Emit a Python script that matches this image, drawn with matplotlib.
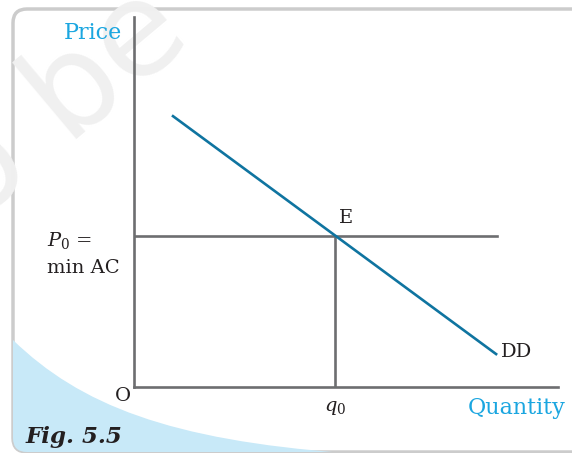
import numpy as np
import matplotlib
matplotlib.use('Agg')
import matplotlib.pyplot as plt
from matplotlib.patches import FancyBboxPatch, PathPatch
from matplotlib.path import Path

plt.rcParams['font.family'] = 'DejaVu Serif'
plt.rcParams['mathtext.fontset'] = 'dejavuserif'

# Data (arbitrary units)
q0 = 4.74            # equilibrium quantity
p0 = 4.08            # equilibrium price = min AC
dd_q = [0.92, 8.54]  # demand curve end points
dd_p = [7.32, 0.89]

gray = '#6d6e70'
blue = '#0f74a0'
cyan = '#1ba6e0'
ink = '#231f20'

fig = plt.figure(figsize=(5.72, 4.53), dpi=100)

# background decoration in pixel coordinates
bg = fig.add_axes([0, 0, 1, 1])
bg.set_xlim(0, 572)
bg.set_ylim(453, 0)
bg.axis('off')

frame = FancyBboxPatch((13, 9), 600, 443, boxstyle='round,pad=0,rounding_size=14',
                       facecolor='white', edgecolor='#cccccc', lw=2.5)
bg.add_patch(frame)
wm = bg.text(60, 105, 'o be', fontsize=95, color='#f0f0f0', rotation=40,
             ha='center', va='center', family='DejaVu Sans')
wm.set_clip_path(frame)

verts = [(13, 340), (80, 405), (170, 440), (345, 453), (13, 453), (13, 340)]
codes = [Path.MOVETO, Path.CURVE4, Path.CURVE4, Path.CURVE4, Path.LINETO, Path.CLOSEPOLY]
blob = PathPatch(Path(verts, codes), facecolor='#c8e9f8', edgecolor='none')
bg.add_patch(blob)
blob.set_clip_path(frame)
bg.text(26, 437, 'Fig. 5.5', fontsize=16.5, fontweight='bold', style='italic',
        color=ink, va='center', ha='left')

# chart
ax = fig.add_axes([134 / 572, 66 / 453, 424 / 572, 370 / 453])
ax.patch.set_alpha(0)
ax.set_xlim(0, 10)
ax.set_ylim(0, 10)
for s in ['top', 'right']:
    ax.spines[s].set_visible(False)
for s in ['left', 'bottom']:
    ax.spines[s].set_color(gray)
    ax.spines[s].set_linewidth(1.9)
ax.set_xticks([])
ax.set_yticks([])

ax.plot([0, 8.57], [p0, p0], color=gray, lw=1.9)
ax.plot([q0, q0], [0, p0], color=gray, lw=1.9)
ax.plot(dd_q, dd_p, color=blue, lw=1.9)

fs = 14
ax.text(q0 + 0.1, p0 + 0.25, 'E', fontsize=fs, color=ink, ha='left', va='bottom')
ax.text(dd_q[1] + 0.12, dd_p[1] + 0.05, 'DD', fontsize=fs, color=ink, ha='left', va='center')
ax.text(q0, -0.57, r'$q_0$', fontsize=fs, color=ink, ha='center', va='center')
ax.text(-0.26, -0.24, 'O', fontsize=fs, color=ink, ha='center', va='center')
ax.text(-2.05, 3.95, r'$P_0$ =', fontsize=fs, color=ink, ha='left', va='center')
ax.text(-2.05, 3.22, 'min AC', fontsize=fs, color=ink, ha='left', va='center')
ax.text(-0.97, 9.57, 'Price', fontsize=16, color=cyan, ha='center', va='center')
ax.text(9.03, -0.57, 'Quantity', fontsize=16, color=cyan, ha='center', va='center')

fig.savefig('out.png', dpi=100)
